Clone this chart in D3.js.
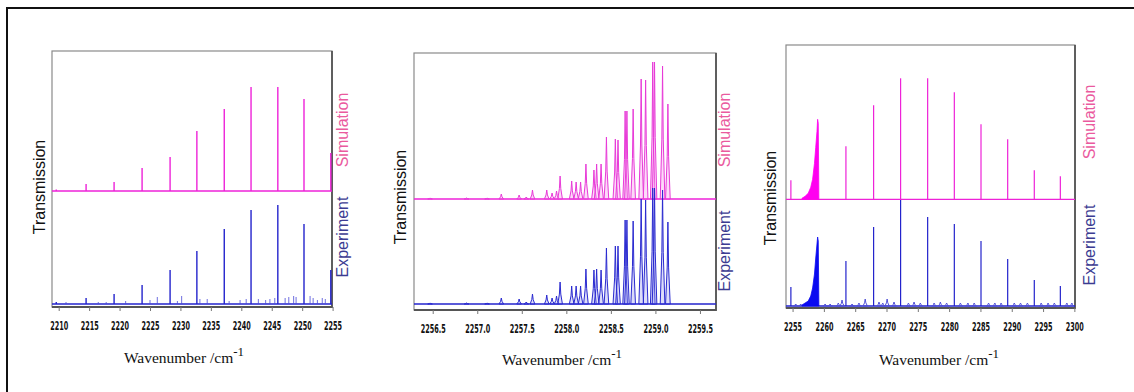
<!DOCTYPE html>
<html>
<head>
<meta charset="utf-8">
<script src="https://cdn.jsdelivr.net/npm/d3@7"></script>
<style>
  body { margin: 0; background: #fff; }
  svg { display: block; }
</style>
</head>
<body>
<div id="chart"></div>
<script>
// panel 1 : 2209 - 2255 cm-1
const p1Lines = [2209.6, 2214.5, 2219.1, 2223.7, 2228.3, 2232.7, 2237.2, 2241.6, 2246.0, 2250.3, 2254.7];
const p1Sim   = [1.5, 7, 9, 23, 34, 60, 82, 104, 104, 92, 38];
const p1Exp   = [2, 6, 10, 19, 34, 53, 75, 94, 99, 80, 34];
const p1NoiseX = [2211.2, 2216.5, 2217.8, 2221, 2225, 2226.2, 2229.5, 2230.2, 2233.2, 2234.4, 2238, 2239.8, 2240.8,
                  2242.8, 2244, 2244.7, 2245.5, 2247.2, 2247.8, 2248.6, 2249, 2251.3, 2251.8, 2252.5, 2253.3, 2253.8];
const p1Noise  = [2, 2, 2, 3, 4, 7, 3, 8, 5, 5, 3, 4, 5, 5, 4, 5, 6, 6, 7, 8, 7, 8, 6, 4, 6, 5];
const p1Ticks = [2210, 2215, 2220, 2225, 2230, 2235, 2240, 2245, 2250, 2255];

// panel 2 : band head 2256.3 - 2259.7 cm-1
const p2Lines = [2256.47, 2256.88, 2257.11, 2257.27, 2257.47, 2257.55, 2257.62, 2257.78, 2257.84, 2257.89, 2257.93,
                 2258.06, 2258.11, 2258.16, 2258.22, 2258.31, 2258.34, 2258.39, 2258.45, 2258.55, 2258.58,
                 2258.66, 2258.68, 2258.75, 2258.84, 2258.89, 2258.97, 2258.99, 2259.08, 2259.14];
const p2Sim = [1, 1, 1, 5, 4, 2, 9, 9, 6, 8, 23, 18, 17, 17, 35, 29, 35, 35, 62, 60, 59, 88, 88, 90, 120, 119, 137, 137, 133, 95];
const p2Exp = [1, 1, 1, 6, 5, 2, 10, 9, 6, 8, 22, 18, 18, 18, 35, 34, 35, 34, 56, 58, 58, 84, 84, 83, 105, 104, 116, 116, 114, 82];
const p2Ticks = [2256.5, 2257.0, 2257.5, 2258.0, 2258.5, 2259.0, 2259.5];

// panel 3 : 2254 - 2300 cm-1
const p3Lines = [2254.73, 2263.52, 2267.94, 2272.25, 2276.57, 2280.83, 2285.09, 2289.35, 2293.6, 2297.76];
const p3Sim   = [19, 53, 94, 121, 121, 107, 75, 60, 29, 23];
const p3Exp   = [19, 45, 79, 106, 89, 82, 65, 47, 26, 20];
const p3HeadSim = [2256.5, 2257.0, 2257.5, 2257.9, 2258.2, 2258.5, 2258.7, 2258.9, 2259.0, 2259.1, 2259.2];
const p3HeadSimI = [1, 3, 6, 12, 20, 36, 52, 68, 80, 76, 0];
const p3HeadExpI = [1, 3, 5, 10, 18, 32, 48, 62, 69, 65, 0];
const p3NoiseX = [2255.5, 2256.3, 2260.2, 2261, 2262.3, 2262.9, 2264.5, 2265.6, 2266.6, 2268.8, 2269.4, 2270.1, 2271.2,
                  2273.5, 2274.4, 2275.4, 2277.6, 2278.6, 2279.6, 2281.8, 2283, 2284, 2286.3, 2287.3, 2288.3,
                  2290.4, 2291.4, 2292.5, 2294.7, 2295.8, 2296.8, 2298.8, 2299.6];
const p3Noise  = [2, 2, 2, 2, 3, 6, 2, 3, 7, 4, 3, 7, 4, 3, 4, 3, 3, 4, 3, 3, 3, 3, 3, 3, 3, 3, 3, 3, 3, 3, 3, 3, 3];
const p3Ticks = [2255, 2260, 2265, 2270, 2275, 2280, 2285, 2290, 2295, 2300];

const simColor = '#ee22d8', expColor = '#2323cc';

const svg = d3.select('#chart').append('svg')
  .attr('width', 1134).attr('height', 392);

// outer frame (cut by the page edge on the right and bottom)
svg.append('rect').attr('x', 7).attr('y', 8).attr('width', 1150).attr('height', 400)
  .attr('fill', 'none').attr('stroke', '#111').attr('stroke-width', 2);

const panels = [
  { box: [52, 51, 332, 307], x: [2208.9, 2254.9], y: [-3, 253], simOff: 113, ticks: p1Ticks, fmt: d3.format('d'), tw: 18,
    trans: [39, 187], sim: [342, 130], exp: [342, 237], wave: [184, 363] },
  { box: [414, 53, 716, 310], x: [2256.29, 2259.68], y: [-6, 251], simOff: 105, ticks: p2Ticks, fmt: d3.format('.1f'), tw: 25,
    trans: [400, 197], sim: [724, 130], exp: [724, 251], wave: [562, 365] },
  { box: [786, 45, 1075, 308], x: [2253.95, 2300.1], y: [-2, 261], simOff: 106.7, ticks: p3Ticks, fmt: d3.format('d'), tw: 18,
    trans: [770, 198], sim: [1089, 122], exp: [1089, 245], wave: [939, 365] }
];

panels.forEach((p, i) => {
  const [x0, y0, x1, y1] = p.box;
  const x = d3.scaleLinear().domain(p.x).range([x0, x1]);
  const y = d3.scaleLinear().domain(p.y).range([y1, y0]);
  const g = svg.append('g');

  // plot box with a darker bottom/right edge
  g.append('rect').attr('x', x0).attr('y', y0).attr('width', x1 - x0).attr('height', y1 - y0)
    .attr('fill', '#fff').attr('stroke', '#8a8a8a').attr('stroke-width', 1.2);
  g.append('path').attr('d', `M${x1},${y0}V${y1}H${x0}`)
    .attr('fill', 'none').attr('stroke', '#555').attr('stroke-width', 1.8);

  const clip = 'clip' + i;
  svg.append('clipPath').attr('id', clip).append('rect')
    .attr('x', x0).attr('y', y0).attr('width', x1 - x0).attr('height', y1 - y0);
  const plot = g.append('g').attr('clip-path', `url(#${clip})`);

  // baselines
  plot.append('line').attr('x1', x0).attr('x2', x1).attr('y1', y(p.simOff)).attr('y2', y(p.simOff))
    .attr('stroke', simColor).attr('stroke-width', 1.3);
  plot.append('line').attr('x1', x0).attr('x2', x1).attr('y1', y(0)).attr('y2', y(0))
    .attr('stroke', expColor).attr('stroke-width', 1.6);

  const stick = (xs, hs, off, color, w) => {
    plot.append('g').selectAll('line').data(xs).join('line')
      .attr('x1', d => x(d)).attr('x2', d => x(d))
      .attr('y1', y(off)).attr('y2', (d, k) => y(off + hs[k]))
      .attr('stroke', color).attr('stroke-width', w);
  };
  const peak = (xs, hs, off, color, hw, fill) => {
    plot.append('g').selectAll('path').data(xs).join('path')
      .attr('d', (d, k) => {
        const h = hs[k];
        return `M${x(d - hw)},${y(off)} L${x(d - hw * 0.3)},${y(off + h * 0.45)} L${x(d)},${y(off + h)}` +
               ` L${x(d + hw * 0.3)},${y(off + h * 0.45)} L${x(d + hw)},${y(off)}Z`;
      })
      .attr('fill', fill).attr('stroke', color).attr('stroke-width', 1);
  };

  if (i === 0) {
    stick(p1NoiseX, p1Noise, 0, '#4a4ad8', 0.8);
    stick(p1Lines, p1Sim, p.simOff, simColor, 1.4);
    stick(p1Lines, p1Exp, 0, expColor, 1.4);
  } else if (i === 1) {
    peak(p2Lines, p2Sim, p.simOff, '#e83ad8', 0.026, 'rgba(245,150,235,0.35)');
    peak(p2Lines, p2Exp, 0, '#2a2ad0', 0.026, 'rgba(140,140,235,0.3)');
  } else {
    peak(p3NoiseX, p3Noise, 0, '#5050d8', 0.35, 'none');
    const area = off => d3.area().x(d => x(d[0])).y0(y(off)).y1(d => y(off + d[1]));
    plot.append('path').datum(p3HeadSim.map((w, k) => [w, p3HeadSimI[k]]))
      .attr('d', area(p.simOff)).attr('fill', '#ff00f0').attr('stroke', '#ff00f0').attr('stroke-width', 0.8);
    plot.append('path').datum(p3HeadSim.map((w, k) => [w, p3HeadExpI[k]]))
      .attr('d', area(0)).attr('fill', '#0a0af0').attr('stroke', '#0a0af0').attr('stroke-width', 0.8);
    stick(p3Lines, p3Sim, p.simOff, simColor, 1.2);
    stick(p3Lines, p3Exp, 0, expColor, 1.2);
  }

  // x axis
  const ax = g.append('g').attr('transform', `translate(0,${y1})`)
    .call(d3.axisBottom(x).tickValues(p.ticks).tickFormat(p.fmt).tickSize(4).tickPadding(11));
  ax.select('.domain').remove();
  ax.selectAll('.tick line').attr('stroke', '#777');
  ax.selectAll('.tick text')
    .attr('font-family', '"Liberation Sans Narrow", "DejaVu Sans Condensed", Arial, sans-serif')
    .attr('font-weight', 'bold').attr('font-size', 11.5).attr('fill', '#111')
    .attr('textLength', p.tw).attr('lengthAdjust', 'spacingAndGlyphs');

  // labels
  g.append('text').attr('transform', `translate(${p.trans[0]},${p.trans[1]}) rotate(-90)`)
    .attr('text-anchor', 'middle').attr('dominant-baseline', 'central')
    .attr('font-family', '"Liberation Sans", Arial, sans-serif').attr('font-size', 16).attr('fill', '#111')
    .text('Transmission');
  g.append('text').attr('transform', `translate(${p.sim[0]},${p.sim[1]}) rotate(-90)`)
    .attr('text-anchor', 'middle').attr('dominant-baseline', 'central')
    .attr('font-family', '"Liberation Sans", Arial, sans-serif').attr('font-size', 16).attr('fill', '#ea5a9e')
    .text('Simulation');
  g.append('text').attr('transform', `translate(${p.exp[0]},${p.exp[1]}) rotate(-90)`)
    .attr('text-anchor', 'middle').attr('dominant-baseline', 'central')
    .attr('font-family', '"Liberation Sans", Arial, sans-serif').attr('font-size', 16).attr('fill', '#3c3c92')
    .text('Experiment');

  const wt = g.append('text').attr('x', p.wave[0]).attr('y', p.wave[1]).attr('text-anchor', 'middle')
    .attr('font-family', '"Liberation Serif", "Times New Roman", serif').attr('font-size', 15.5).attr('fill', '#111');
  wt.append('tspan').text('Wavenumber /cm');
  wt.append('tspan').attr('dy', -7).attr('font-size', 13).text('-1');
});
</script>
</body>
</html>
